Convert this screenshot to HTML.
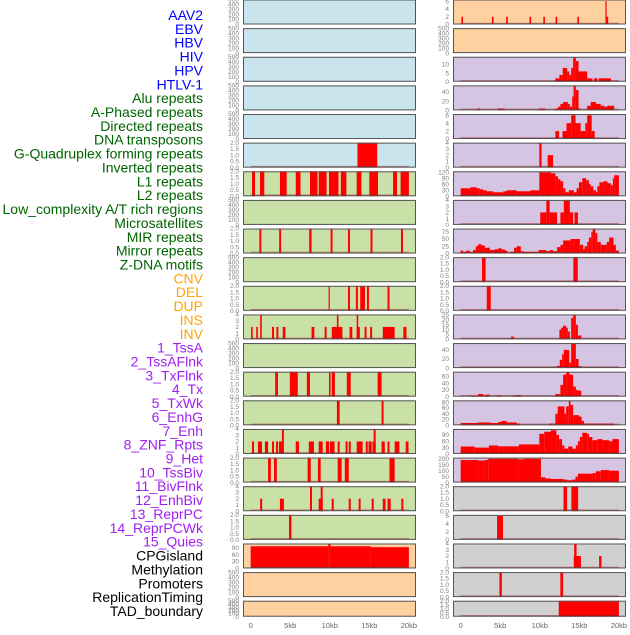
<!DOCTYPE html>
<html><head><meta charset="utf-8">
<style>
html,body{margin:0;padding:0;background:#fff;}
#chart{position:absolute;left:0;top:0;width:630px;height:630px;}
svg text{font-family:"Liberation Sans",sans-serif;}
</style></head>
<body>
<div id="chart">
<svg id="svg" width="630" height="630" xmlns="http://www.w3.org/2000/svg"></svg>
</div>
<script>
// ---- category labels ----
const labelNames = ["AAV2","EBV","HBV","HIV","HPV","HTLV-1",
"Alu repeats","A-Phased repeats","Directed repeats","DNA transposons","G-Quadruplex forming repeats","Inverted repeats","L1 repeats","L2 repeats","Low_complexity A/T rich regions","Microsatellites","MIR repeats","Mirror repeats","Z-DNA motifs",
"CNV","DEL","DUP","INS","INV",
"1_TssA","2_TssAFlnk","3_TxFlnk","4_Tx","5_TxWk","6_EnhG","7_Enh","8_ZNF_Rpts","9_Het","10_TssBiv","11_BivFlnk","12_EnhBiv","13_ReprPC","14_ReprPCWk","15_Quies",
"CPGisland","Methylation","Promoters","ReplicationTiming","TAD_boundary"];
const labelGroups = [6,13,5,15,5];
const groupColors = ["#0000ff","#006400","#ffa500","#a020f0","#000000"];

// ---- x axis ----
const xTicks = [0,5,10,15,20];
const xTickLabels = ["0","5kb","10kb","15kb","20kb"];

// ---- left column series: [startKb, endKb, value] ----
const L5 = [[13.5,16.0,2]];
const L6 = [[0.17,0.55,2],[1.18,1.72,2],[3.7,4.55,2],[5.7,6.3,2],[7.5,8.45,2],[8.6,9.6,2],[9.9,11.1,2],[11.4,12.1,2],[13.4,14.0,2],[15.0,16.1,2],[18.0,18.5,2],[18.95,20.0,2]];
const L8 = [[1.1,1.35,2],[3.6,3.85,2],[7.4,7.7,2],[10.1,10.35,2],[12.3,12.55,2],[15.15,15.4,2],[19.0,19.25,2]];
const L10 = [[9.85,10.0,2],[12.3,12.55,2],[13.3,13.55,2],[13.85,14.45,2],[14.7,14.95,2],[17.3,17.55,2]];
const L11 = [[0.05,0.25,2],[0.7,0.9,2],[1.2,1.4,4],[2.7,2.95,2],[3.25,3.5,2],[4.05,4.4,2],[7.7,8.05,2],[9.35,9.6,2],[10.25,11.6,2],[10.9,11.1,4],[12.5,12.85,2],[13.4,13.8,2],[13.4,13.6,4],[14.4,14.65,2],[15.1,15.35,2],[16.7,18.2,2],[19.3,19.7,2]];
const L13 = [[3.1,3.45,2],[4.95,5.95,2],[7.1,7.5,2],[9.9,10.1,2],[10.25,10.65,2],[12.15,12.65,2],[16.05,16.55,2]];
const L14 = [[10.9,11.25,2],[16.55,16.8,2]];
const L15 = [[0.17,0.42,2],[0.92,1.43,2],[1.8,2.2,2],[2.7,2.95,2],[3.2,3.45,2],[3.57,3.95,2],[3.95,4.2,4],[5.7,6.1,2],[7.35,8.0,2],[8.6,9.1,2],[9.5,9.9,2],[10.0,10.6,2],[11.0,11.25,2],[12.0,12.25,2],[12.4,12.65,2],[13.4,14.15,2],[14.55,14.8,2],[14.9,15.3,2],[15.4,15.8,2],[15.55,15.8,4],[16.55,16.95,2],[17.3,17.55,2],[18.2,18.8,2],[19.6,19.95,2]];
const L16 = [[2.2,2.55,2],[2.95,3.3,2],[7.2,7.6,2],[8.5,8.85,2],[11.0,11.5,2],[11.9,12.4,2],[17.55,18.2,2]];
const L17 = [[1.2,1.45,2],[3.7,4.2,2],[7.5,7.75,4],[8.6,9.1,2],[8.85,9.1,4],[10.25,10.5,2],[12.4,12.65,2],[13.65,13.9,2],[15.3,15.55,2],[16.7,17.05,2],[17.3,17.7,2],[19.05,19.3,2]];
const L18 = [[4.85,5.15,2]];
const L19 = [[0,9.8,96],[9.8,10.1,108],[10.1,15.2,96],[15.2,20.0,92]];

// ---- right column series ----
const R0 = [[0.1,0.3,2],[3.95,4.15,2],[5.75,5.95,2],[8.7,8.9,2],[10.45,10.65,2],[12.0,12.2,2],[14.75,14.95,2],[18.3,18.45,6],[18.45,18.65,2]];
const R2 = [[11.97,12.48,2],[12.48,12.9,4],[12.9,13.46,8],[13.46,13.72,6],[13.72,13.97,4],[13.97,14.22,8],[14.22,14.56,14],[14.56,14.9,12],[14.9,16.0,6],[16.0,16.65,2],[16.86,17.28,2],[17.45,19.0,2]];
const R3 = [[2.08,2.5,4],[4.67,5.56,4],[9.9,10.66,4],[11.97,12.31,4],[12.31,12.61,8],[12.61,12.95,14],[12.95,13.55,18],[13.55,13.8,14],[13.8,14.1,8],[14.1,14.27,30],[14.27,14.56,54],[14.56,14.9,44],[14.9,15.16,4],[16.0,16.43,10],[16.43,17.11,18],[17.11,17.71,14],[17.71,18.13,10],[18.13,18.56,8],[18.56,19.4,10]];
const R4 = [[11.97,12.44,2],[12.87,13.38,2],[13.38,13.97,4],[13.97,14.52,6],[14.52,15.16,4],[15.16,15.75,2],[15.75,16.0,4],[16.0,16.56,6],[16.56,16.94,2]];
const R5 = [[9.94,10.23,4],[11.0,11.68,2]];
const R6 = [[0,1.23,40],[1.23,2.0,45],[2.0,2.42,40],[2.42,2.85,35],[2.85,3.27,30],[3.27,4.12,25],[4.12,5.39,20],[5.39,5.82,25],[5.82,7.09,30],[7.09,8.79,25],[8.79,9.94,30],[9.94,11.42,120],[11.42,11.97,115],[11.97,12.31,100],[12.31,12.61,85],[12.61,12.95,75],[12.95,13.25,40],[13.25,13.67,20],[13.67,14.31,30],[14.31,14.65,20],[14.65,14.95,40],[14.95,15.37,70],[15.37,15.88,90],[15.88,16.22,80],[16.22,16.43,60],[16.43,16.77,50],[16.77,17.11,30],[17.11,17.28,20],[17.28,17.54,50],[17.54,18.05,70],[18.05,18.56,75],[18.56,18.98,65],[18.98,19.24,55],[19.24,19.4,90],[19.4,20.0,105]];
const R7 = [[10.06,10.83,2],[10.83,11.25,4],[11.25,12.19,2],[12.61,13.04,2],[13.04,13.8,4],[13.8,14.22,2],[14.39,14.82,2]];
const R8 = [[0,0.3,10],[0.3,0.72,6],[0.72,1.15,10],[1.15,1.57,5],[1.57,1.91,12],[1.91,2.2,25],[2.2,2.63,32],[2.63,3.06,28],[3.06,3.69,20],[3.69,4.33,12],[4.33,4.76,15],[4.76,5.18,18],[5.18,5.6,14],[5.6,5.9,10],[6.24,6.75,6],[6.75,7.09,20],[7.09,7.6,25],[7.6,7.94,8],[7.94,9.85,6],[9.85,10.83,12],[10.83,11.25,8],[11.25,11.68,12],[11.68,12.19,8],[12.19,12.61,22],[12.61,12.95,30],[12.95,13.89,45],[13.89,14.31,50],[14.31,15.07,50],[15.07,15.5,30],[15.5,15.67,15],[15.67,16.0,25],[16.0,16.22,40],[16.22,16.52,55],[16.52,16.69,75],[16.69,17.03,86],[17.03,17.28,70],[17.28,17.71,40],[17.71,18.47,30],[18.47,18.77,40],[18.77,19.32,55],[19.32,19.62,30],[19.62,20.0,10]];
const R9 = [[2.7,3.15,2],[14.25,14.8,2]];
const R10 = [[3.3,3.8,2]];
const R11 = [[6.37,6.71,3],[12.48,12.7,10],[12.7,12.95,12],[12.95,13.33,14],[13.33,13.55,12],[13.55,13.8,8],[13.97,14.22,22],[14.22,14.56,25],[14.56,14.82,15],[14.82,15.24,4]];
const R12 = [[12.19,12.53,5],[12.53,12.82,18],[12.82,13.04,30],[13.04,13.72,40],[13.72,13.97,12],[13.97,14.56,55],[14.56,14.9,20],[14.9,15.24,4]];
const R13 = [[1.23,2.2,3],[2.2,2.85,8],[2.85,3.14,4],[3.14,3.69,6],[4.54,5.18,4],[6.5,7.09,3],[7.09,7.6,5],[11.97,12.61,8],[12.61,12.95,35],[12.95,13.33,65],[13.33,13.76,72],[13.76,14.22,65],[14.22,14.56,30],[14.56,14.82,20],[14.82,15.24,18]];
const R14 = [[0,2.2,8],[2.2,2.63,10],[2.63,3.78,10],[3.78,4.76,8],[4.76,5.18,12],[5.18,5.82,15],[5.82,7.09,10],[7.09,7.6,6],[11.2,11.97,6],[11.97,12.27,40],[12.27,13.12,65],[13.12,13.33,40],[13.33,13.67,65],[13.67,13.89,85],[13.89,14.22,70],[14.22,14.95,35],[14.95,15.29,30],[15.29,15.58,15],[15.58,19.4,6]];
const R15 = [[0,1.78,35],[1.78,3.57,30],[3.57,4.76,40],[4.76,7.35,36],[7.35,8.45,45],[8.45,9.94,45],[9.94,10.57,95],[10.57,11.42,105],[11.42,12.1,112],[12.1,12.44,90],[12.44,12.82,70],[12.82,13.12,40],[13.12,13.59,25],[13.59,14.14,35],[14.14,14.56,25],[14.56,14.82,40],[14.82,15.07,60],[15.07,15.37,80],[15.37,16.0,100],[16.0,16.22,95],[16.22,16.65,80],[16.65,17.28,65],[17.28,17.92,70],[17.92,18.77,65],[18.77,19.19,60],[19.19,20.0,70]];
const R16 = [[0,2.2,190],[2.2,3.06,185],[3.06,3.48,190],[3.48,7.3,200],[7.3,7.94,195],[7.94,10.15,200],[10.15,10.7,45],[10.7,11.42,35],[11.42,13.04,30],[13.04,13.46,25],[13.46,14.1,20],[14.1,14.52,25],[14.52,14.82,50],[14.82,16.65,75],[16.65,17.07,80],[17.07,17.71,95],[17.71,18.77,105],[18.77,20.0,100]];
const R17 = [[13.0,13.45,2],[14.0,14.85,2]];
const R18 = [[4.6,5.35,6]];
const R19 = [[14.3,15.2,2],[14.35,14.65,4],[17.5,17.8,2]];
const R20 = [[4.9,5.2,2],[12.6,12.95,2]];
const R21 = [[12.4,20.0,2]];

// ---- y tick label sets ----
const T500 = ["0","100","200","300","400","500"];
const T2 = ["0.0","0.5","1.0","1.5","2.0"];
const T4 = ["0","1","2","3","4"];
const T6 = ["0","2","4","6"];

const leftSeries = [[],[],[],[],[],L5,L6,[],L8,[],L10,L11,[],L13,L14,L15,L16,L17,L18,L19,[],[]];
const leftYMax = [500,500,500,500,500,2,2,500,2,500,2,4,500,2,2,4,2,4,2,108,500,500];
const leftTicks = [T500,T500,T500,T500,T500,T2,T2,T500,T2,T500,T2,T4,T500,T2,T2,T4,T2,T4,T2,["0","30","60","90"],T500,T500];
const leftBg = ["#c9e4ec","#c9e4ec","#c9e4ec","#c9e4ec","#c9e4ec","#c9e4ec","#c9e1a6","#c9e1a6","#c9e1a6","#c9e1a6","#c9e1a6","#c9e1a6","#c9e1a6","#c9e1a6","#c9e1a6","#c9e1a6","#c9e1a6","#c9e1a6","#c9e1a6","#ffd0a0","#ffd0a0","#ffd0a0"];

const rightSeries = [R0,[],R2,R3,R4,R5,R6,R7,R8,R9,R10,R11,R12,R13,R14,R15,R16,R17,R18,R19,R20,R21];
const rightYMax = [6.4,500,14.5,54,6.3,4,125,4,86,2,2,25.5,55,74,86,118,210,2,6.3,4,2,2];
const rightTicks = [T6,T500,["0","5","10"],["0","20","40"],T6,T4,["0","30","60","90","120"],T4,["0","25","50","75"],T2,T2,["0","5","10","15","20","25"],["0","20","40"],["0","20","40","60"],["0","20","40","60","80"],["0","30","60","90"],["0","50","100","150","200"],T2,T6,T4,T2,T2];
const rightBg = ["#ffd0a0","#ffd0a0","#d5c5e2","#d5c5e2","#d5c5e2","#d5c5e2","#d5c5e2","#d5c5e2","#d5c5e2","#d5c5e2","#d5c5e2","#d5c5e2","#d5c5e2","#d5c5e2","#d5c5e2","#d5c5e2","#d5c5e2","#d0d0d0","#d0d0d0","#d0d0d0","#d0d0d0","#d0d0d0"];

const NS = "http://www.w3.org/2000/svg";
const svg = document.getElementById('svg');
function mk(tag, attrs, parent){
  const e = document.createElementNS(NS, tag);
  for (const k in attrs) e.setAttribute(k, attrs[k]);
  (parent||svg).appendChild(e);
  return e;
}

// labels
let li = 0;
labelGroups.forEach((n, g) => {
  for (let j = 0; j < n; j++, li++) {
    const t = mk('text', {x: 203, y: 15 + li*13.86 + 5, 'text-anchor': 'end', 'font-size': 14, fill: groupColors[g]});
    t.textContent = labelNames[li];
    
    
  }
});

const PITCH = 28.63;
const XMIN = -0.97, XMAX = 20.9;
function drawColumn(px, series, ymaxes, ticks, bgs, col) {
  const W = 173;
  const xs = kb => px + (kb - XMIN) / (XMAX - XMIN) * W;
  for (let i = 0; i < 22; i++) {
    const top = i * PITCH - 0.5;
    const h = (i === 21) ? 16 : 25;
    const bottom = top + h;
    const ys = v => bottom - v / ymaxes[i] * h;
    const g = mk('g', {});
    
    
    const bg = mk('rect', {x: px, y: top, width: W, height: h, fill: bgs[i]}, g);
    
    
    const segs = series[i];
    segs.forEach(s => {
      const y1 = ys(Math.min(s[2], ymaxes[i]));
      const r = mk('rect', {x: xs(s[0]), y: y1, width: Math.max(xs(s[1]) - xs(s[0]), 1.2), height: bottom - y1, fill: '#ff0000'}, g);
      
      
    });
    if (segs.length) {
      const bl = mk('line', {x1: xs(0), x2: xs(20), y1: bottom - 1, y2: bottom - 1, stroke: 'rgba(150,0,0,0.45)', 'stroke-width': 1.5}, g);
      
      
    }
    const bd = mk('rect', {x: px + 0.5, y: top + 0.5, width: W - 1, height: h - 1, fill: 'none', stroke: '#555', 'stroke-width': 1}, g);
    
    
    const tl = ticks[i];
    tl.forEach(lbl => {
      const v = parseFloat(lbl);
      const t = mk('text', {x: px - 4, y: ys(v) + 2.2, 'text-anchor': 'end', 'font-size': 6.5, fill: '#808080'}, g);
      t.textContent = lbl;
      
      
    });
  }
  xTicks.forEach((v, k) => {
    const t = mk('text', {x: xs(v), y: 628, 'text-anchor': 'middle', 'font-size': 7.5, fill: '#666'});
    t.textContent = xTickLabels[k];
    
    
  });
}
drawColumn(243, leftSeries, leftYMax, leftTicks, leftBg, 'left');
drawColumn(453, rightSeries, rightYMax, rightTicks, rightBg, 'right');
</script>
</body></html>
